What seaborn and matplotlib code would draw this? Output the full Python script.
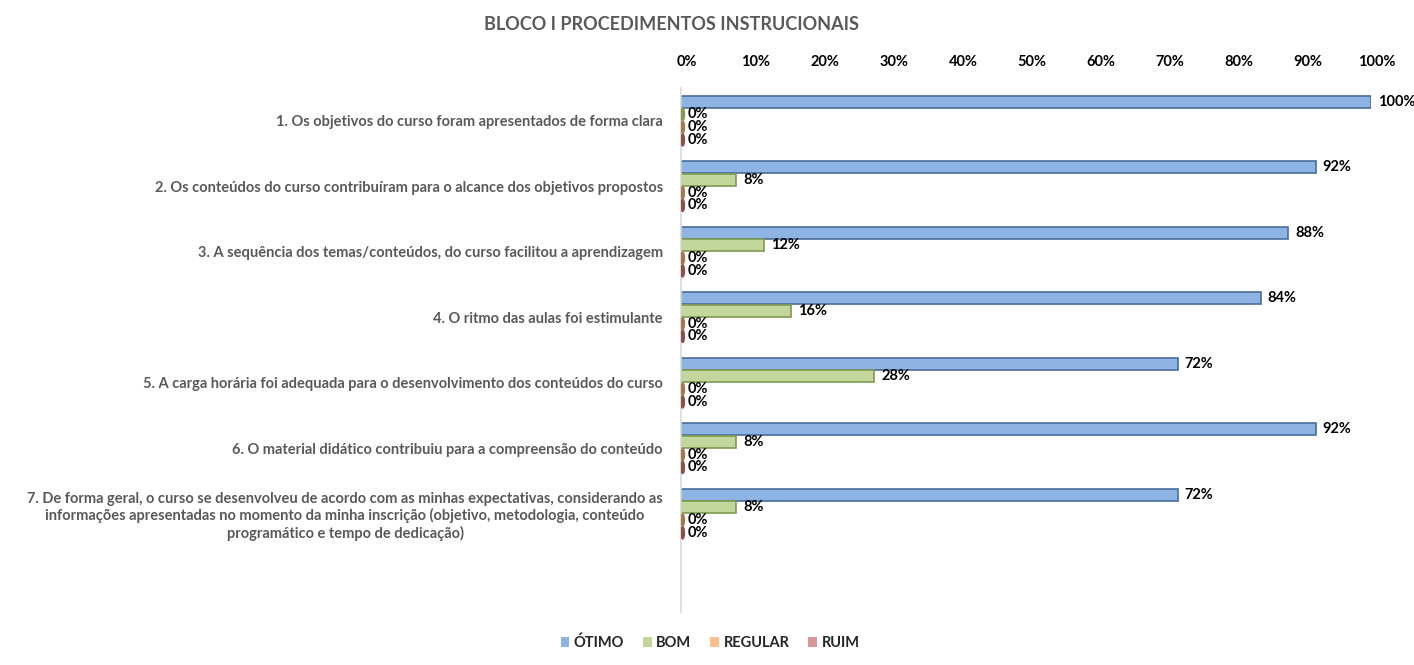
import matplotlib
matplotlib.use("Agg")
import matplotlib.pyplot as plt
import matplotlib.transforms as mtransforms
from matplotlib.patches import Patch, Ellipse
import seaborn as sns
import pandas as pd

categories = [
    "1. Os objetivos do curso foram apresentados de forma clara",
    "2. Os conteúdos do curso contribuíram para o alcance dos objetivos propostos",
    "3. A sequência dos temas/conteúdos, do curso facilitou a aprendizagem",
    "4. O ritmo das aulas foi estimulante",
    "5. A carga horária foi adequada para o desenvolvimento dos conteúdos do curso",
    "6. O material didático contribuiu para a compreensão do conteúdo",
    "7. De forma geral, o curso se desenvolveu de acordo com as minhas expectativas, considerando as\n"
    "informações apresentadas no momento da minha inscrição (objetivo, metodologia, conteúdo\n"
    "programático e tempo de dedicação)",
]
series = ["ÓTIMO", "BOM", "REGULAR", "RUIM"]
otimo = [100, 92, 88, 84, 72, 92, 72]
bom = [0, 8, 12, 16, 28, 8, 8]
regular = [0, 0, 0, 0, 0, 0, 0]
ruim = [0, 0, 0, 0, 0, 0, 0]
x_ticks = [0, 10, 20, 30, 40, 50, 60, 70, 80, 90, 100]

fills = ["#8DB4E2", "#C3D69B", "#FAC090", "#D99694"]
edges = ["#4A6E9C", "#7F9A4F", "#A8784A", "#8E4F4D"]

rows = []
for s, vals in zip(series, [otimo, bom, regular, ruim]):
    for c, v in zip(categories, vals):
        rows.append({"cat": c, "serie": s, "val": v / 100.0})
df = pd.DataFrame(rows)

sns.set_theme(style="white")
plt.rcParams["font.family"] = ["Lato", "DejaVu Sans"]

fig = plt.figure(figsize=(14.14, 6.65), dpi=100)
ax = fig.add_axes([681 / 1414, 1 - 612 / 665, 690 / 1414, (612 - 88) / 665])

sns.barplot(data=df, y="cat", x="val", hue="serie", hue_order=series,
            order=categories, palette=fills, orient="h", width=0.78, gap=0.05,
            saturation=1, ax=ax, legend=False)

for cont, ec, fc in zip(ax.containers, edges, fills):
    for p in cont:
        p.set_edgecolor(ec)
        p.set_linewidth(1.2)
        if p.get_width() == 0:
            h = p.get_height()
            ax.add_patch(Ellipse((p.get_x() + 0.0025, p.get_y() + h / 2), 0.005, h,
                                 facecolor=ec, edgecolor=ec, linewidth=1.0, zorder=3))
    ax.bar_label(cont, labels=[f"{int(round(p.get_width()*100))}%" for p in cont],
                 padding=5, fontsize=10.5, fontweight="bold", color="black")

ax.set_xlim(0, 1)
ax.set_ylim(7.5, -0.5)
ax.set_xlabel("")
ax.set_ylabel("")
ax.xaxis.tick_top()
ax.set_xticks([t / 100 for t in x_ticks])
ax.set_xticklabels([f"{t}%" for t in x_ticks], fontsize=10.5, fontweight="bold", color="#000000")
ax.tick_params(axis="x", length=0, pad=14)
offset = mtransforms.ScaledTranslation(6 / 100, 0, fig.dpi_scale_trans)
for lab in ax.get_xticklabels():
    lab.set_transform(lab.get_transform() + offset)
ax.tick_params(axis="y", length=0, pad=13)
for lab in ax.get_yticklabels():
    lab.set_fontsize(10.5)
    lab.set_fontweight("bold")
    lab.set_color("#595959")
    lab.set_multialignment("center")

for s in ["top", "right", "bottom"]:
    ax.spines[s].set_visible(False)
ax.spines["left"].set_color("#D9D9D9")
ax.spines["left"].set_linewidth(1.2)
ax.grid(False)

fig.text(672 / 1414, 1 - 25 / 665, "BLOCO I PROCEDIMENTOS INSTRUCIONAIS", ha="center", va="center",
         fontsize=13, fontweight="bold", color="#595959")

handles = [Patch(facecolor=f, edgecolor="none") for f in fills]
fig.legend(handles, series, loc="center", bbox_to_anchor=(710 / 1414, 1 - 643 / 665), ncol=4,
           frameon=False, handlelength=0.6, handleheight=0.6, handletextpad=0.3, columnspacing=1.3,
           prop={"weight": "bold", "size": 10.5})

fig.savefig("out.png", dpi=100)
